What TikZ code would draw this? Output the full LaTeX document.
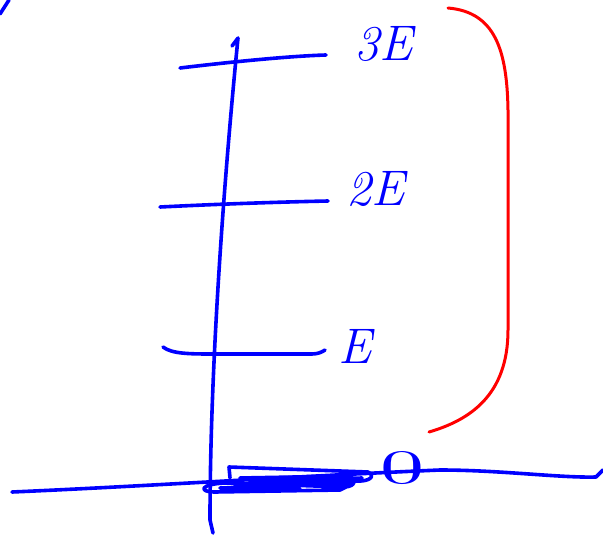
\documentclass[tikz,border=0pt]{standalone}
\usepackage{fontspec}
\usepackage{graphicx}
\begin{document}
\begin{tikzpicture}[x=1pt,y=-1pt,
  ink/.style={draw=blue, line width=3.6pt, line cap=round, line join=round},
  redink/.style={draw=red, line width=3pt, line cap=round, line join=round},
  lbl/.style={text=blue, font=\fontsize{50}{50}\selectfont\itshape, inner sep=0pt}]
\useasboundingbox (0,0) rectangle (603,541);
% coordinates
\coordinate (vtop) at (238,38);
\coordinate (vbot) at (213,533);
\coordinate (hl) at (12,492);
\coordinate (hr) at (603,470);
\coordinate (l3a) at (180,68);
\coordinate (l3b) at (326,55);
\coordinate (l2a) at (160,207);
\coordinate (l2b) at (328,201);
\coordinate (l1a) at (163,347);
\coordinate (l1b) at (325,350);
\coordinate (ra) at (448,8);
\coordinate (rb) at (429,432);
\coordinate (tl1) at (0,14);
\coordinate (tl2) at (9,0);
% labels
\node[lbl] (e3) at (384,44) {3E};
\node[lbl] (e2) at (376,189) {2E};
\node[lbl] (e1) at (355,346) {E};
\node[text=blue, inner sep=0pt, font=\upshape] (e0) at (402,468) {\resizebox{44pt}{32pt}{0}};
% tiny stroke top-left
\draw[ink] (tl1) -- (tl2);
% vertical axis
\draw[ink] (232,46) -- (vtop) .. controls (222,200) and (210,380) .. (210,520) -- (vbot);
% horizontal axis
\draw[ink] (hl) .. controls (150,486) and (300,476) .. (440,470)
  .. controls (500,470) and (560,478) .. (596,477) -- (hr);
% level lines
\draw[ink] (l3a) .. controls (230,62) and (290,56) .. (l3b);
\draw[ink] (l2a) .. controls (220,204) and (280,202) .. (l2b);
\draw[ink] (l1a) .. controls (172,354) and (190,354) .. (215,354) -- (312,354) .. controls (318,354) and (322,352) .. (l1b);
% scribbled ground level
\draw[ink] (230,478) -- (229,467) -- (368,472) .. controls (376,476) and (370,482) .. (355,481)
  -- (240,478) -- (350,476) .. controls (356,480) and (356,486) .. (345,487)
  -- (225,483) .. controls (200,484) and (198,492) .. (215,492) -- (340,490) -- (352,484) -- (250,481) -- (362,478)
  -- (235,486) -- (320,485) -- (220,488) -- (300,489);
% red bracket
\draw[redink] (ra) .. controls (495,12) and (507,50) .. (508,110) -- (508,330)
  .. controls (508,395) and (470,420) .. (rb);
\end{tikzpicture}
\end{document}
